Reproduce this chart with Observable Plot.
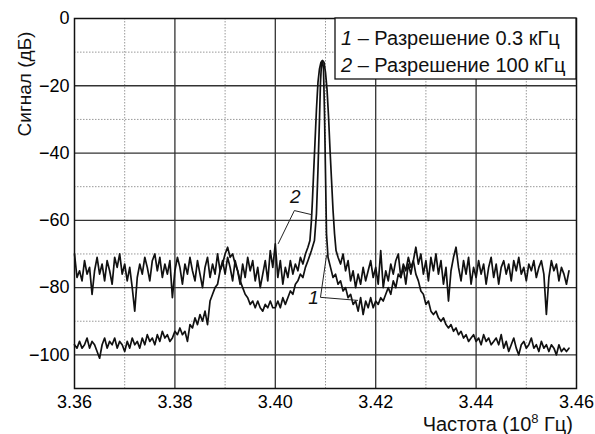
<!DOCTYPE html>
<html>
<head>
<meta charset="utf-8">
<script src="https://cdn.jsdelivr.net/npm/d3@7"></script>
<script src="https://cdn.jsdelivr.net/npm/@observablehq/plot@0.6"></script>
<style>
  html, body { margin: 0; padding: 0; background: white; }
  #chart { width: 595px; height: 434px; }
</style>
</head>
<body>
<div id="chart"></div>
<script>
// ---- Data (frequency in 10^8 Hz, signal in dB) ----
const xMajor = [3.38, 3.40, 3.42, 3.44];
const xMinor = [3.37, 3.39, 3.41, 3.43, 3.45];
const yMajor = [-20, -40, -60, -80, -100];
const yMinor = [-10, -30, -50, -70, -90];
const xTicks = [3.36, 3.38, 3.40, 3.42, 3.44, 3.46];
const yTicks = [0, -20, -40, -60, -80, -100];

// Curve 1: resolution 0.3 kHz
const trace1 = [
[3.3600,-97],[3.3605,-98],[3.3610,-96],[3.3615,-98],[3.3620,-97],[3.3625,-95],[3.3630,-98],[3.3635,-96],
[3.3640,-97],[3.3645,-99],[3.3650,-101],[3.3655,-97],[3.3660,-95],[3.3665,-98],[3.3670,-96],[3.3675,-97],
[3.3680,-95],[3.3685,-98],[3.3690,-96],[3.3695,-97],[3.3700,-99],[3.3705,-96],[3.3710,-98],[3.3715,-95],
[3.3720,-97],[3.3725,-96],[3.3730,-98],[3.3735,-95],[3.3740,-97],[3.3745,-94],[3.3750,-96],[3.3755,-95],
[3.3760,-97],[3.3765,-94],[3.3770,-96],[3.3775,-93],[3.3780,-95],[3.3785,-94],[3.3790,-96],[3.3795,-95],
[3.3800,-93],[3.3805,-94],[3.3810,-92],[3.3815,-94],[3.3820,-93],[3.3825,-96],[3.3830,-91],[3.3835,-92],
[3.3840,-89],[3.3845,-91],[3.3850,-88],[3.3855,-90],[3.3860,-87],[3.3865,-91],[3.3870,-84],[3.3875,-82],
[3.3880,-80],[3.3885,-79],[3.3890,-75],[3.3895,-73],[3.3900,-70],[3.3905,-68],[3.3910,-71],[3.3915,-70],
[3.3920,-73],[3.3925,-75],[3.3930,-78],[3.3935,-80],[3.3940,-82],[3.3945,-83],[3.3950,-85],[3.3955,-84],
[3.3960,-86],[3.3965,-84],[3.3970,-86],[3.3975,-87],[3.3980,-85],[3.3985,-86],[3.3990,-84],[3.3995,-86],
[3.4000,-86],[3.4005,-84],[3.4010,-86],[3.4015,-83],[3.4020,-85],[3.4025,-83],[3.4030,-81],[3.4035,-82],
[3.4040,-79],[3.4045,-78],[3.4050,-76],[3.4055,-77],[3.4060,-74],[3.4065,-72],
[3.4072,-69],[3.4078,-66],[3.4082,-58],[3.4085,-45],[3.4088,-30],[3.4090,-19],[3.4092,-13.5],[3.4094,-12.5],
[3.4096,-15],[3.4098,-28],[3.4100,-46],[3.4102,-64],[3.4105,-71],
[3.4110,-74],[3.4115,-77],[3.4120,-76],[3.4125,-79],[3.4130,-78],[3.4135,-81],[3.4140,-80],[3.4145,-83],
[3.4150,-82],[3.4155,-85],[3.4160,-84],[3.4165,-87],[3.4170,-83],[3.4175,-88],[3.4180,-84],[3.4185,-86],
[3.4190,-83],[3.4195,-86],[3.4200,-84],[3.4205,-85],[3.4210,-83],[3.4215,-84],[3.4220,-82],[3.4225,-80],
[3.4230,-82],[3.4235,-78],[3.4240,-80],[3.4245,-76],[3.4250,-77],[3.4255,-73],[3.4260,-75],[3.4265,-71],
[3.4270,-74],[3.4275,-72],[3.4280,-76],[3.4285,-78],[3.4290,-81],[3.4295,-82],[3.4300,-85],[3.4305,-84],
[3.4310,-87],[3.4315,-88],[3.4320,-87],[3.4325,-89],[3.4330,-90],[3.4335,-89],[3.4340,-91],[3.4345,-92],
[3.4350,-91],[3.4355,-93],[3.4360,-92],[3.4365,-94],[3.4370,-93],[3.4375,-95],[3.4380,-94],[3.4385,-96],
[3.4390,-95],[3.4395,-94],[3.4400,-96],[3.4405,-95],[3.4410,-97],[3.4415,-94],[3.4420,-96],[3.4425,-95],
[3.4430,-97],[3.4435,-96],[3.4440,-95],[3.4445,-97],[3.4450,-94],[3.4455,-98],[3.4460,-96],[3.4465,-99],
[3.4470,-97],[3.4475,-95],[3.4480,-98],[3.4485,-100],[3.4490,-97],[3.4495,-96],[3.4500,-98],[3.4505,-97],
[3.4510,-95],[3.4515,-98],[3.4520,-97],[3.4525,-99],[3.4530,-96],[3.4535,-98],[3.4540,-97],[3.4545,-99],
[3.4550,-97],[3.4555,-98],[3.4560,-100],[3.4565,-97],[3.4570,-99],[3.4575,-98],[3.4580,-99],[3.4585,-98]
];

// Curve 2: resolution 100 kHz
const trace2 = [
[3.3600,-70],[3.3605,-77],[3.3610,-75],[3.3615,-78],[3.3620,-72],[3.3625,-76],[3.3630,-74],[3.3635,-82],
[3.3640,-75],[3.3645,-71],[3.3650,-76],[3.3655,-73],[3.3660,-78],[3.3665,-72],[3.3670,-75],[3.3675,-79],
[3.3680,-71],[3.3685,-74],[3.3690,-70],[3.3695,-76],[3.3700,-73],[3.3705,-78],[3.3710,-74],[3.3715,-80],
[3.3720,-87],[3.3725,-77],[3.3730,-73],[3.3735,-76],[3.3740,-71],[3.3745,-74],[3.3750,-78],[3.3755,-72],
[3.3760,-70],[3.3765,-75],[3.3770,-71],[3.3775,-77],[3.3780,-73],[3.3785,-76],[3.3790,-72],[3.3795,-83],
[3.3800,-75],[3.3805,-71],[3.3810,-74],[3.3815,-79],[3.3820,-73],[3.3825,-76],[3.3830,-71],[3.3835,-75],
[3.3840,-78],[3.3845,-72],[3.3850,-76],[3.3855,-80],[3.3860,-74],[3.3865,-71],[3.3870,-77],[3.3875,-73],
[3.3880,-76],[3.3885,-70],[3.3890,-75],[3.3895,-72],[3.3900,-76],[3.3905,-71],[3.3910,-74],[3.3915,-78],
[3.3920,-72],[3.3925,-75],[3.3930,-79],[3.3935,-73],[3.3940,-77],[3.3945,-71],[3.3950,-75],[3.3955,-72],
[3.3960,-78],[3.3965,-74],[3.3970,-80],[3.3975,-76],[3.3980,-72],[3.3985,-78],[3.3990,-69],[3.3995,-74],
[3.4000,-67],[3.4005,-77],[3.4010,-72],[3.4015,-79],[3.4020,-74],[3.4025,-77],[3.4030,-72],[3.4035,-76],
[3.4040,-73],[3.4045,-75],[3.4050,-71],[3.4055,-73],[3.4060,-70],[3.4065,-68],
[3.4069,-66],[3.4072,-60],[3.4074,-54],[3.4076,-47],[3.4079,-37],[3.4082,-27],[3.4085,-19],[3.4088,-15],
[3.4091,-13],[3.4094,-12.5],[3.4097,-13],[3.4100,-16],[3.4103,-21],[3.4106,-29],[3.4109,-39],[3.4112,-48],
[3.4115,-57],[3.4118,-64],[3.4121,-69],
[3.4125,-71],[3.4130,-73],[3.4135,-70],[3.4140,-75],[3.4145,-72],[3.4150,-78],[3.4155,-75],[3.4160,-80],
[3.4165,-76],[3.4170,-79],[3.4175,-74],[3.4180,-78],[3.4185,-75],[3.4190,-72],[3.4195,-77],[3.4200,-74],
[3.4205,-79],[3.4210,-69],[3.4215,-80],[3.4220,-75],[3.4225,-78],[3.4230,-73],[3.4235,-76],[3.4240,-72],
[3.4245,-70],[3.4250,-77],[3.4255,-74],[3.4260,-79],[3.4265,-73],[3.4270,-76],[3.4275,-72],[3.4280,-68],
[3.4285,-73],[3.4290,-70],[3.4295,-76],[3.4300,-72],[3.4305,-78],[3.4310,-71],[3.4315,-75],[3.4320,-70],
[3.4325,-76],[3.4330,-72],[3.4335,-79],[3.4340,-74],[3.4345,-84],[3.4350,-75],[3.4355,-71],[3.4360,-68],
[3.4365,-74],[3.4370,-78],[3.4375,-72],[3.4380,-76],[3.4385,-71],[3.4390,-79],[3.4395,-74],[3.4400,-77],
[3.4405,-72],[3.4410,-76],[3.4415,-73],[3.4420,-79],[3.4425,-74],[3.4430,-71],[3.4435,-77],[3.4440,-73],
[3.4445,-79],[3.4450,-74],[3.4455,-72],[3.4460,-76],[3.4465,-73],[3.4470,-78],[3.4475,-72],[3.4480,-75],
[3.4485,-71],[3.4490,-76],[3.4495,-74],[3.4500,-78],[3.4505,-73],[3.4510,-75],[3.4515,-72],[3.4520,-77],
[3.4525,-74],[3.4530,-72],[3.4535,-76],[3.4540,-88],[3.4545,-77],[3.4550,-72],[3.4555,-75],[3.4560,-73],
[3.4565,-78],[3.4570,-74],[3.4575,-76],[3.4580,-79],[3.4585,-75]
];

// Annotation leaders (data coordinates) and labels
const leader1 = [[3.4102,-70.5],[3.4090,-82.9],[3.4164,-83.8]];
const leader2 = [[3.4006,-66.9],[3.4038,-57.1],[3.4072,-58.3]];
const labels = [{f: 3.4076, s: -83.2, t: "1"}, {f: 3.4040, s: -52.9, t: "2"}];
const legendItems = [{n: "1", t: " – Разрешение 0.3 кГц"}, {n: "2", t: " – Разрешение 100 кГц"}];
const xLabel = "Частота (10";
const xLabelSup = "8";
const xLabelTail = " Гц)";
const yLabel = "Сигнал (дБ)";

const W = 595, H = 434, mL = 74, mR = 19, mT = 18, mB = 46;
const font = "Liberation Sans, Arial, sans-serif";
const FS = 18;

const plot = Plot.plot({
  width: W, height: H,
  marginLeft: mL, marginRight: mR, marginTop: mT, marginBottom: mB,
  style: {fontFamily: font, fontSize: FS + "px", background: "white", color: "black"},
  x: {domain: [3.36, 3.46], ticks: xTicks, tickFormat: d => d.toFixed(2), tickSize: 0, tickPadding: 7, label: null},
  y: {domain: [-110, 0], ticks: yTicks, tickSize: 0, tickPadding: 5, label: null},
  marks: [
    Plot.ruleX(xMinor, {stroke: "#999", strokeWidth: 1, strokeDasharray: "1.5,1.5"}),
    Plot.ruleY(yMinor, {stroke: "#999", strokeWidth: 1, strokeDasharray: "1.5,1.5"}),
    Plot.ruleX(xMajor, {stroke: "#333", strokeWidth: 1.3}),
    Plot.ruleY(yMajor, {stroke: "#333", strokeWidth: 1.3}),
    Plot.line(trace1, {x: d => d[0], y: d => d[1], stroke: "#111", strokeWidth: 1.7}),
    Plot.line(trace2, {x: d => d[0], y: d => d[1], stroke: "#111", strokeWidth: 1.7}),
    Plot.line(leader1, {x: d => d[0], y: d => d[1], stroke: "#222", strokeWidth: 1}),
    Plot.line(leader2, {x: d => d[0], y: d => d[1], stroke: "#222", strokeWidth: 1}),
    Plot.text(labels, {x: "f", y: "s", text: "t", fontStyle: "italic", fontSize: 19, fill: "#111"}),
    Plot.frame({stroke: "#111", strokeWidth: 1.5})
  ]
});

const svg = d3.select(plot);
// Legend box in top-right corner of the frame
const boxX = 335, boxW = W - mR - boxX, boxH = 61;
const lg = svg.append("g").attr("font-family", font).attr("font-size", 20).attr("text-anchor", "start");
lg.append("rect").attr("x", boxX).attr("y", mT).attr("width", boxW).attr("height", boxH)
  .attr("fill", "white").attr("stroke", "#111").attr("stroke-width", 1.3);
legendItems.forEach((it, i) => {
  const t = lg.append("text").attr("x", boxX + 6).attr("y", mT + 27 + i * 27).attr("fill", "#111");
  t.append("tspan").attr("font-style", "italic").text(it.n);
  t.append("tspan").text(it.t);
});
// Axis titles
const xt = svg.append("text").attr("x", W - 22).attr("y", H - 3).attr("text-anchor", "end")
  .attr("font-family", font).attr("font-size", 20).attr("fill", "#111");
xt.append("tspan").text(xLabel);
xt.append("tspan").attr("font-size", 13).attr("dy", -8).text(xLabelSup);
xt.append("tspan").attr("dy", 8).text(xLabelTail);
svg.append("text").attr("transform", "translate(31,84) rotate(-90)").attr("text-anchor", "middle")
  .attr("font-family", font).attr("font-size", 19).attr("fill", "#111").text(yLabel);

document.getElementById("chart").appendChild(plot);
</script>
</body>
</html>
